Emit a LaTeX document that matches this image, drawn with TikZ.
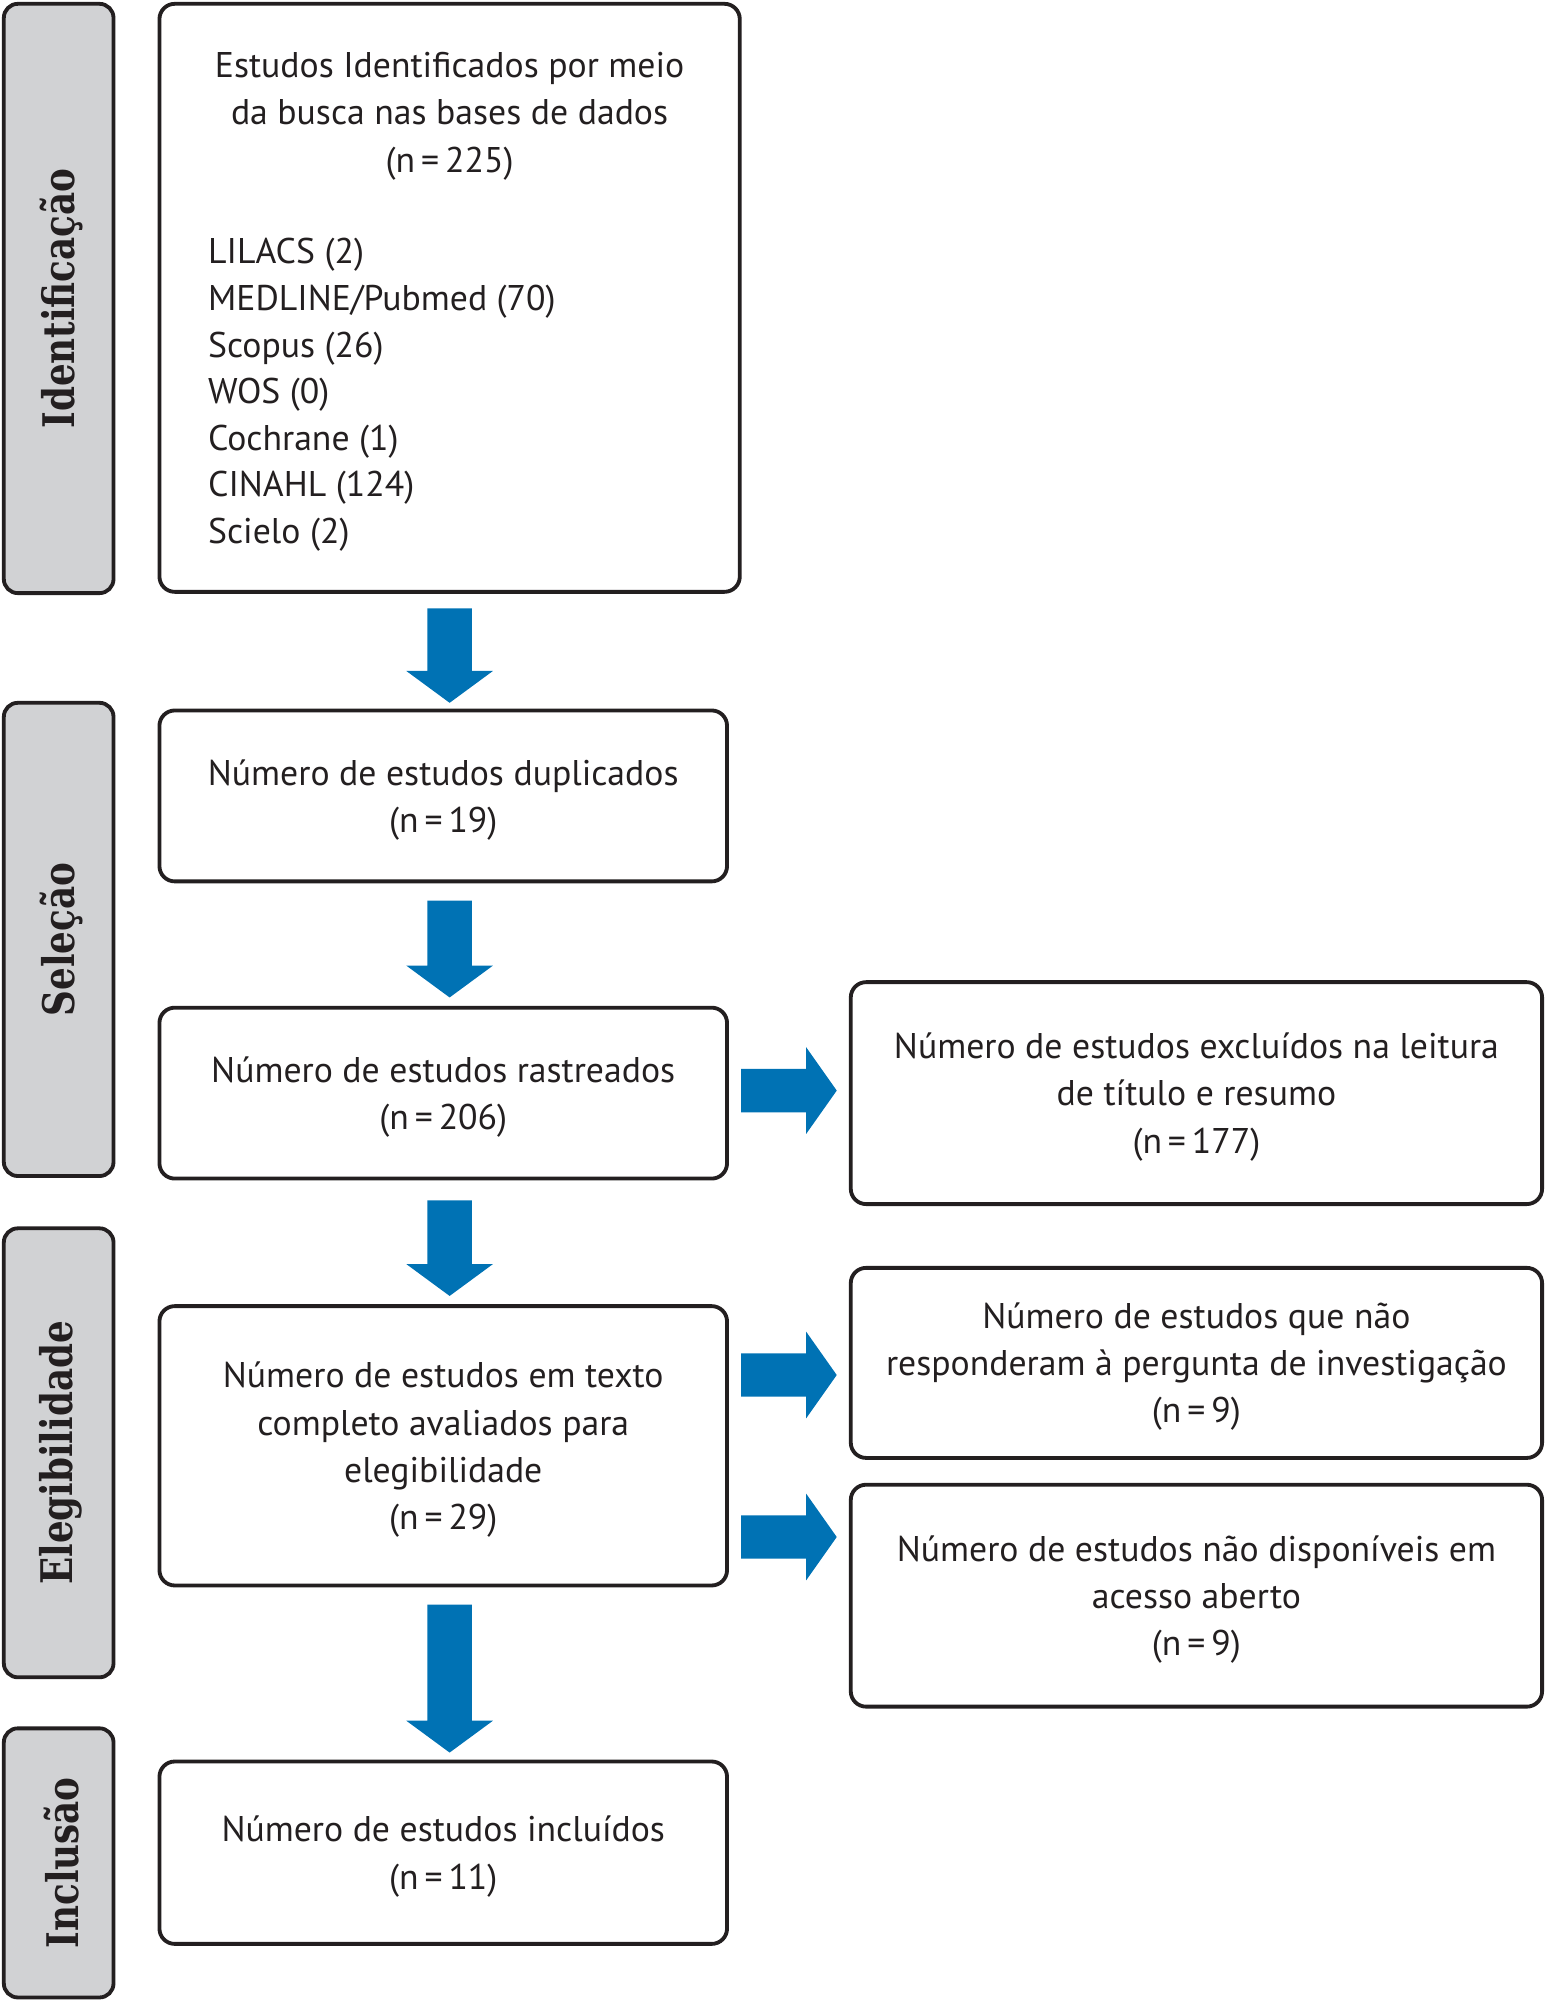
\documentclass[tikz,border=0pt]{standalone}
\usepackage{fontspec}
\newfontfamily\ptsans{PT Sans}
\newfontfamily\labelfont{DejaVu Serif}[BoldFont={DejaVu Serif Bold}]
\usetikzlibrary{calc}
\definecolor{arrowblue}{RGB}{0,114,180}
\definecolor{labelgray}{RGB}{209,210,212}
\definecolor{edge}{RGB}{35,31,32}
\tikzset{
  box/.style={draw=edge, line width=3pt, rounded corners=12pt, fill=white, inner sep=0pt, outer sep=0pt},
  phase/.style={draw=edge, line width=3pt, rounded corners=11pt, fill=labelgray, inner sep=0pt, outer sep=0pt, minimum width=86pt},
  txt/.style={font=\ptsans\fontsize{28}{37}\selectfont, align=center, text=edge, text depth=0pt},
  listtxt/.style={font=\ptsans\fontsize{28}{36.5}\selectfont, align=left, text=edge, inner sep=0pt, anchor=west, text depth=0pt},
  phasetxt/.style={rotate=90, font=\labelfont\bfseries\fontsize{28}{34}\selectfont, text=edge, inner sep=0pt}
}
\newcommand\dnarrow[2]{\fill[arrowblue] ($(#1)+(-17.5,0)$) -- ($(#1)+(17.5,0)$) -- ($(#2)+(17.5,-25)$) -- ($(#2)+(34,-25)$) -- (#2) -- ($(#2)+(-34,-25)$) -- ($(#2)+(-17.5,-25)$) -- cycle;}
\newcommand\rtarrow[2]{\fill[arrowblue] ($(#1)+(0,-17)$) -- ($(#2)+(-24,-17)$) -- ($(#2)+(-24,-34)$) -- (#2) -- ($(#2)+(-24,34)$) -- ($(#2)+(-24,17)$) -- ($(#1)+(0,17)$) -- cycle;}
\begin{document}
\begin{tikzpicture}[x=1pt,y=-1pt]
\useasboundingbox (0,0) rectangle (1211,1568);
% phase labels
\node[phase, minimum height=462pt] (p1) at (46,234) {};
\node[phasetxt] (p1t) at ($(p1.center)+(2,0)$) {\scalebox{1}[1.22]{Identificação}};
\node[phase, minimum height=371pt] (p2) at (46,736.5) {};
\node[phasetxt] (p2t) at ($(p2.center)+(2,0)$) {\scalebox{1}[1.22]{Seleção}};
\node[phase, minimum height=352pt] (p3) at (46,1139) {};
\node[phasetxt] (p3t) at ($(p3.center)+(2,0)$) {\scalebox{1}[1.22]{Elegibilidade}};
\node[phase, minimum height=211pt] (p4) at (46,1460.5) {};
\node[phasetxt] (p4t) at ($(p4.center)+(2,0)$) {\scalebox{1}[1.22]{Inclusão}};
% main column
\node[box, minimum width=455pt, minimum height=461pt] (b1) at (352.5,233.5) {};
\node[txt] (b1t) at (352.5,88) {Estudos Identificados por meio\\da busca nas bases de dados\\(n\,=\,225)};
\node[listtxt] (b1l) at (163,306.5) {LILACS (2)\\MEDLINE/Pubmed (70)\\Scopus (26)\\WOS (0)\\Cochrane (1)\\CINAHL (124)\\Scielo (2)};
\node[box, txt, minimum width=445pt, minimum height=134pt] (b2) at (347.5,624) {Número de estudos duplicados\\(n\,=\,19)};
\node[box, txt, minimum width=445pt, minimum height=134pt] (b3) at (347.5,857) {Número de estudos rastreados\\(n\,=\,206)};
\node[box, txt, minimum width=445pt, minimum height=219pt] (b4) at (347.5,1133.5) {Número de estudos em texto\\completo avaliados para\\elegibilidade\\(n\,=\,29)};
\node[box, txt, minimum width=445pt, minimum height=143pt] (b5) at (347.5,1452.5) {Número de estudos incluídos\\(n\,=\,11)};
% right column
\node[box, txt, minimum width=542pt, minimum height=174pt] (x1) at (938,857) {Número de estudos excluídos na leitura\\de título e resumo\\(n\,=\,177)};
\node[box, txt, minimum width=542pt, minimum height=149pt] (x2) at (938,1068.5) {Número de estudos que não\\responderam à pergunta de investigação\\(n\,=\,9)};
\node[box, txt, minimum width=542pt, minimum height=174pt] (x3) at (938,1251) {Número de estudos não disponíveis em\\acesso aberto\\(n\,=\,9)};
% arrow coordinates
\coordinate (a1s) at ($(b1.south)+(0,13)$);
\coordinate (a1e) at ($(b1.south |- b2.north)+(0,-6)$);
\coordinate (a2s) at ($(b1.south |- b2.south)+(0,15)$);
\coordinate (a2e) at ($(b1.south |- b3.north)+(0,-8)$);
\coordinate (a3s) at ($(b1.south |- b3.south)+(0,17)$);
\coordinate (a3e) at ($(b1.south |- b4.north)+(0,-8)$);
\coordinate (a4s) at ($(b1.south |- b4.south)+(0,15)$);
\coordinate (a4e) at ($(b1.south |- b5.north)+(0,-7)$);
\coordinate (r1s) at ($(b3.east)+(11,-2)$);
\coordinate (r1e) at ($(r1s -| x1.west)+(-11,0)$);
\coordinate (r2s) at ($(b4.east)+(11,-55.5)$);
\coordinate (r2e) at ($(r2s -| x2.west)+(-11,0)$);
\coordinate (r3s) at ($(b4.east)+(11,71.5)$);
\coordinate (r3e) at ($(r3s -| x3.west)+(-11,0)$);
\dnarrow{a1s}{a1e}
\dnarrow{a2s}{a2e}
\dnarrow{a3s}{a3e}
\dnarrow{a4s}{a4e}
\rtarrow{r1s}{r1e}
\rtarrow{r2s}{r2e}
\rtarrow{r3s}{r3e}
\end{tikzpicture}
\end{document}
